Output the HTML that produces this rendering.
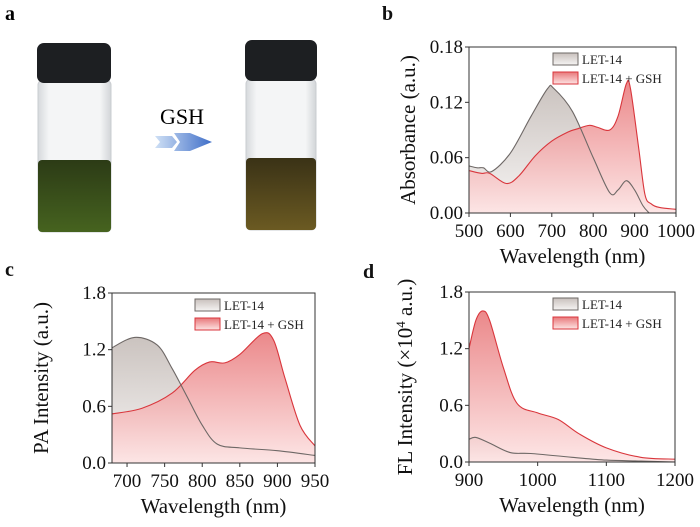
<!DOCTYPE html>
<html><head><meta charset="utf-8"><style>
body{margin:0;background:#fff;font-family:"Liberation Serif","Times New Roman",Times,"DejaVu Serif",serif;}
svg{display:block;}
svg text{font-family:"Liberation Serif","Times New Roman",Times,"DejaVu Serif",serif;}
</style></head><body>
<svg id="fig" width="700" height="527" viewBox="0 0 700 527" xmlns="http://www.w3.org/2000/svg">
<defs>
<linearGradient id="gGray" x1="0" y1="0" x2="0" y2="1"><stop offset="0" stop-color="#c8c0bc"/><stop offset="1" stop-color="#f6f4f3"/></linearGradient>
<linearGradient id="gRed" x1="0" y1="0" x2="0" y2="1"><stop offset="0" stop-color="#e8787a"/><stop offset="1" stop-color="#fde3e3"/></linearGradient>
<linearGradient id="gArrow" x1="0" y1="0" x2="1" y2="0"><stop offset="0" stop-color="#cfe0f5"/><stop offset="1" stop-color="#3f6ec8"/></linearGradient>
<linearGradient id="gLiq1" x1="0" y1="0" x2="0" y2="1"><stop offset="0" stop-color="#2c3b16"/><stop offset="1" stop-color="#46631f"/></linearGradient>
<linearGradient id="gLiq2" x1="0" y1="0" x2="0" y2="1"><stop offset="0" stop-color="#3a3216"/><stop offset="1" stop-color="#6b5a22"/></linearGradient>
<linearGradient id="gGlass" x1="0" y1="0" x2="1" y2="0"><stop offset="0" stop-color="#d6d9dc"/><stop offset="0.15" stop-color="#f4f5f6"/><stop offset="0.85" stop-color="#f4f5f6"/><stop offset="1" stop-color="#d2d5d8"/></linearGradient>
</defs>
<g>
<text x="5" y="20" font-size="20" font-weight="bold">a</text>
<g>
<rect x="38" y="80" width="73" height="152" rx="5" fill="url(#gGlass)" stroke="#c9ccd0"/>
<rect x="38" y="160" width="73" height="72" rx="4" fill="url(#gLiq1)"/>
<rect x="37" y="43" width="74" height="40" rx="7" fill="#1d1f22"/>
</g>
<g>
<rect x="246" y="79" width="70" height="151" rx="5" fill="url(#gGlass)" stroke="#c9ccd0"/>
<rect x="246" y="158" width="70" height="72" rx="4" fill="url(#gLiq2)"/>
<rect x="245" y="40" width="72" height="41" rx="7" fill="#1d1f22"/>
</g>
<text x="182" y="124" font-size="22" text-anchor="middle">GSH</text>
<path d="M155,136 L172,136 L177,142 L172,148 L155,148 L160,142 Z M174,133 L190,133 L212,142 L190,151 L174,151 L180,142 Z" fill="url(#gArrow)"/>
</g>
<g id="charts"></g>
</svg>
<script>
// Panel b data
const bGrayX=[500,520,535,555,600,650,690,705,750,800,840,860,880,900,920,935];
const bGrayY=[0.051,0.049,0.049,0.045,0.065,0.105,0.135,0.135,0.11,0.06,0.022,0.025,0.035,0.025,0.008,0];
const bRedX=[500,530,550,590,620,660,700,740,760,790,810,840,860,880,890,910,925,940,960,1000];
const bRedY=[0.046,0.043,0.043,0.032,0.04,0.062,0.078,0.088,0.091,0.095,0.093,0.09,0.105,0.14,0.135,0.07,0.02,0.01,0.006,0.004];
const bXTicks=[500,600,700,800,900,1000];
const bYTicks=["0.00","0.06","0.12","0.18"];
// Panel c data
const cGrayX=[680,710,740,760,780,800,820,850,900,950];
const cGrayY=[1.22,1.33,1.25,1.0,0.7,0.4,0.2,0.16,0.13,0.08];
const cRedX=[680,720,760,790,810,830,850,880,895,910,930,950];
const cRedY=[0.52,0.58,0.74,0.98,1.07,1.06,1.15,1.37,1.3,0.9,0.4,0.18];
const cXTicks=[700,750,800,850,900,950];
const cYTicks=["0.0","0.6","1.2","1.8"];
// Panel d data
const dGrayX=[900,910,930,960,990,1050,1100,1150,1200];
const dGrayY=[0.24,0.26,0.2,0.1,0.09,0.05,0.02,0.01,0];
const dRedX=[900,910,920,930,950,970,1000,1030,1060,1100,1150,1200];
const dRedY=[1.2,1.5,1.6,1.5,1.0,0.62,0.52,0.45,0.3,0.15,0.05,0.03];
const dXTicks=[900,1000,1100,1200];
const dYTicks=["0.0","0.6","1.2","1.8"];

const NS="http://www.w3.org/2000/svg";
const root=document.getElementById('charts');
function mk(tag,attrs,parent){const e=document.createElementNS(NS,tag);for(const k in attrs)e.setAttribute(k,attrs[k]);(parent||root).appendChild(e);return e;}
function smooth(pts){let d="M"+pts[0][0]+","+pts[0][1];for(let i=0;i<pts.length-1;i++){const p0=pts[Math.max(i-1,0)],p1=pts[i],p2=pts[i+1],p3=pts[Math.min(i+2,pts.length-1)];const c1x=p1[0]+(p2[0]-p0[0])/6,c1y=p1[1]+(p2[1]-p0[1])/6,c2x=p2[0]-(p3[0]-p1[0])/6,c2y=p2[1]-(p3[1]-p1[1])/6;d+=" C"+c1x+","+c1y+" "+c2x+","+c2y+" "+p2[0]+","+p2[1];}return d;}
function panel(o){
  const g=mk('g',{});
  
  
  const sx=v=>o.L+(v-o.x0)/(o.x1-o.x0)*(o.R-o.L);
  const sy=v=>o.B-(v-o.y0)/(o.y1-o.y0)*(o.B-o.T);
  const cp=mk('clipPath',{id:'clip'+o.id},g);mk('rect',{x:o.L,y:o.T,width:o.R-o.L,height:o.B-o.T},cp);
  const series=[[o.gx,o.gy,'url(#gGray)','#6e6866','series-let14'],[o.rx,o.ry,'url(#gRed)','#d9363c','series-let14-gsh']];
  const lines=[];
  [0,1].forEach(i=>{const s=series[i];const pts=s[0].map((x,j)=>[sx(x),sy(Math.max(s[1][j],o.y0))]);
    const line=smooth(pts);lines.push(line);
    const a=mk('path',{d:line+" L"+pts[pts.length-1][0]+","+o.B+" L"+pts[0][0]+","+o.B+" Z",fill:s[2],'fill-opacity':i==0?0.95:0.88,'clip-path':'url(#clip'+o.id+')'},g);
    
    
  });
  [1,0].forEach(i=>{const s=series[i];
    const l=mk('path',{d:lines[i],fill:'none',stroke:s[3],'stroke-width':1.1,'clip-path':'url(#clip'+o.id+')'},g);
    
    
  });
  const fr=mk('rect',{x:o.L,y:o.T,width:o.R-o.L,height:o.B-o.T,fill:'none',stroke:'#333','stroke-width':1},g);
  
  
  o.xt.forEach(v=>{const x=sx(v);mk('line',{x1:x,x2:x,y1:o.B,y2:o.B+4,stroke:'#333'},g);
    const t=mk('text',{x:x,y:o.B+24,'font-size':19,'text-anchor':'middle',fill:'#111'},g);t.textContent=v;
    
    });
  o.yt.forEach(v=>{const y=sy(parseFloat(v));mk('line',{x1:o.L-4,x2:o.L,y1:y,y2:y,stroke:'#333'},g);
    const t=mk('text',{x:o.L-6,y:y+6,'font-size':19,'text-anchor':'end',fill:'#111'},g);t.textContent=v;
    
    });
  const xt=mk('text',{x:(o.L+o.R)/2,y:o.B+50,'font-size':21,'text-anchor':'middle',fill:'#111'},g);xt.textContent='Wavelength (nm)';
  
  
  const yt=mk('text',{x:0,y:0,'font-size':21,'text-anchor':'middle',fill:'#111',transform:'translate('+o.ytx+','+((o.T+o.B)/2)+') rotate(-90)'},g);yt.innerHTML=o.ytitle;
  
  
  const lb=mk('text',{x:o.lblx,y:o.lbly,'font-size':20,'font-weight':'bold',fill:'#111'},g);lb.textContent=o.id;
  
  
  const lx=o.legx,ly=o.T+6;
  const l1=mk('g',{},g);
  
  
  mk('rect',{x:lx,y:ly,width:25,height:12,fill:'url(#gGray)',stroke:'#6e6866'},l1);
  const t1=mk('text',{x:lx+29,y:ly+11,'font-size':13,fill:'#222'},l1);t1.textContent='LET-14';
  const l2=mk('g',{},g);
  
  
  mk('rect',{x:lx,y:ly+19,width:25,height:12,fill:'url(#gRed)',stroke:'#d9363c'},l2);
  const t2=mk('text',{x:lx+29,y:ly+30,'font-size':13,fill:'#222'},l2);t2.textContent='LET-14 + GSH';
}
panel({id:'b',name:'panel-b-absorbance',L:469,R:676,T:47,B:213,x0:500,x1:1000,y0:0,y1:0.18,gx:bGrayX,gy:bGrayY,rx:bRedX,ry:bRedY,xt:bXTicks,yt:bYTicks,ytitle:'Absorbance (a.u.)',ytx:415,lblx:382,lbly:20,legx:553});
panel({id:'c',name:'panel-c-pa-intensity',L:112,R:315,T:293,B:463,x0:680,x1:950,y0:0,y1:1.8,gx:cGrayX,gy:cGrayY,rx:cRedX,ry:cRedY,xt:cXTicks,yt:cYTicks,ytitle:'PA Intensity (a.u.)',ytx:48,lblx:5,lbly:276,legx:195});
panel({id:'d',name:'panel-d-fl-intensity',L:469,R:675,T:292,B:462,x0:900,x1:1200,y0:0,y1:1.8,gx:dGrayX,gy:dGrayY,rx:dRedX,ry:dRedY,xt:dXTicks,yt:dYTicks,ytitle:'FL Intensity (×10<tspan dy="-7" font-size="13">4</tspan><tspan dy="7"> a.u.)</tspan>',ytx:412,lblx:363,lbly:278,legx:553});
</script>
</body></html>
